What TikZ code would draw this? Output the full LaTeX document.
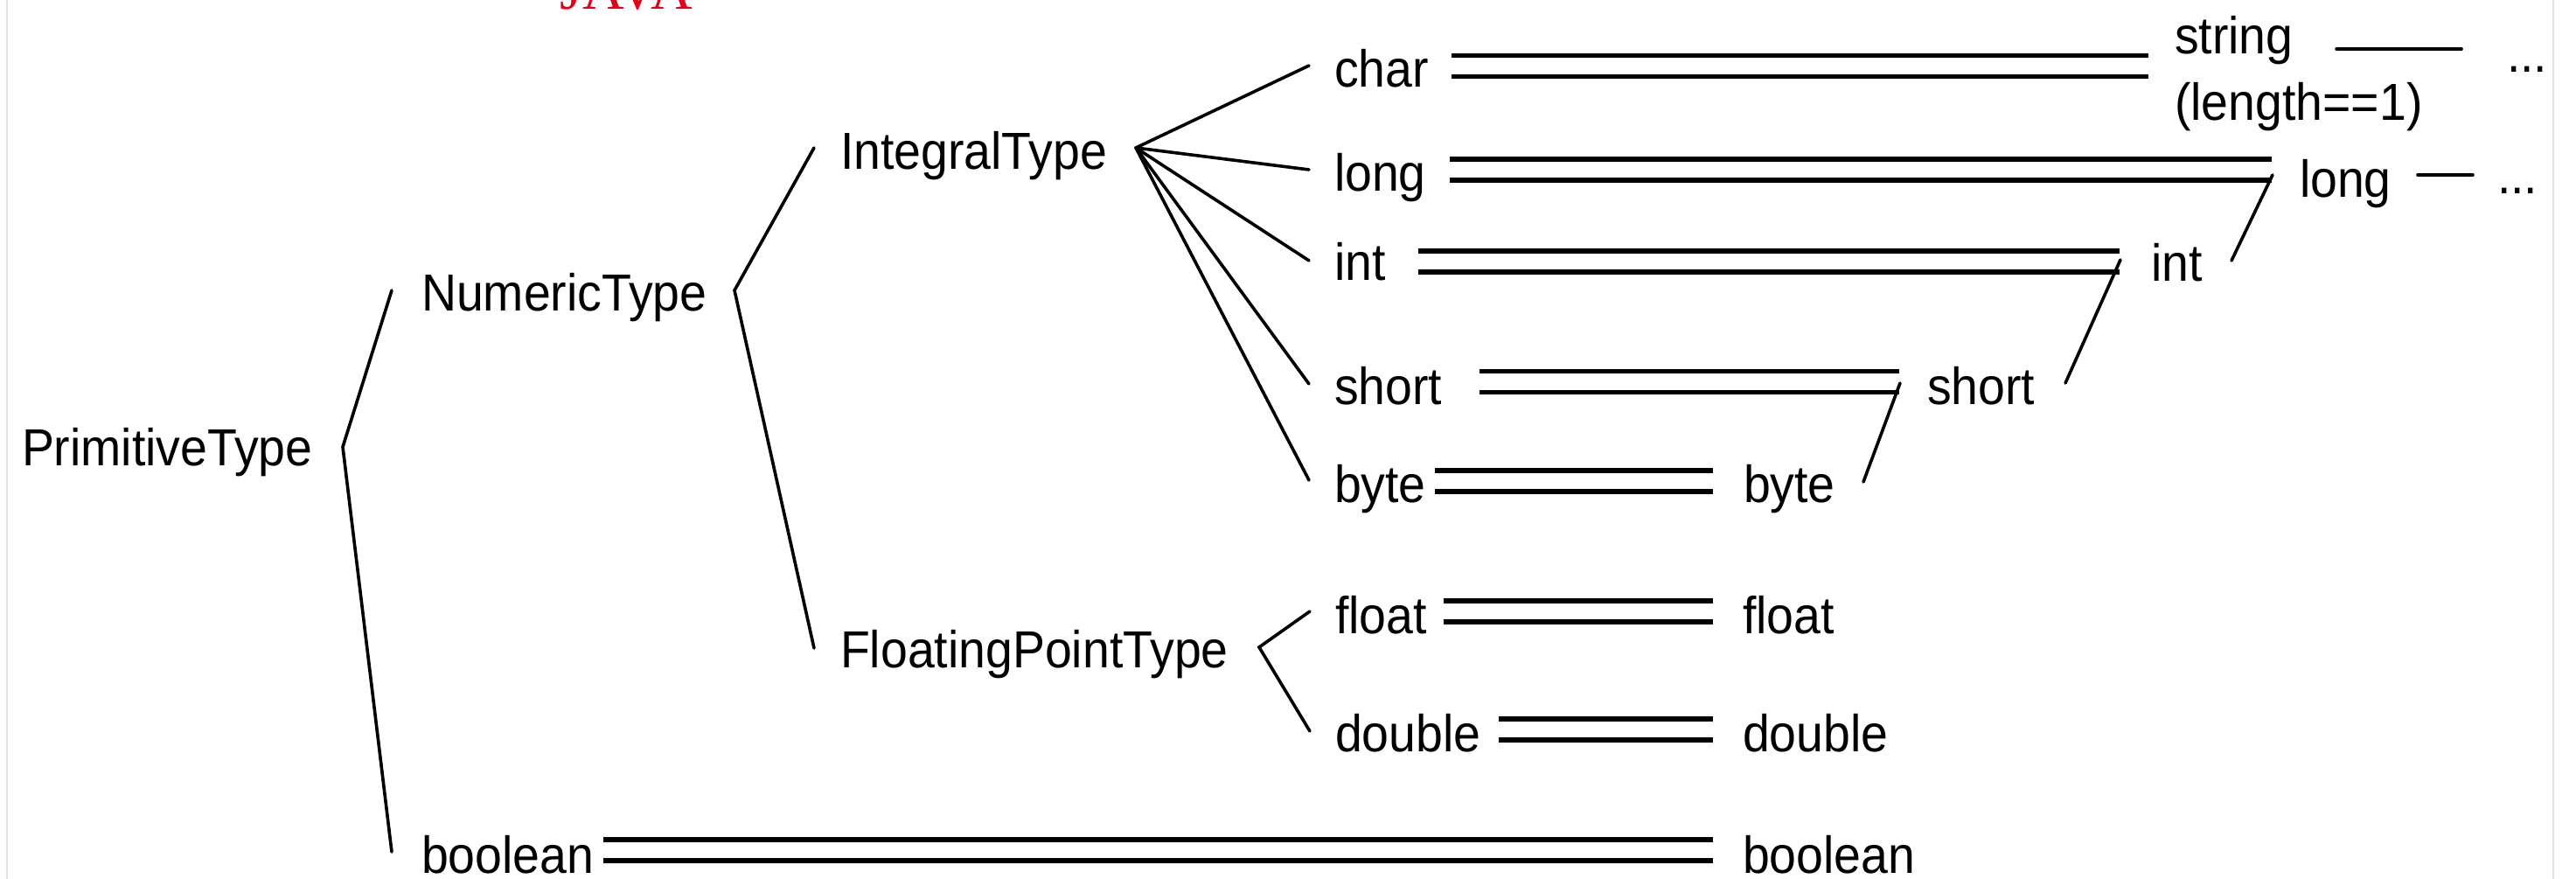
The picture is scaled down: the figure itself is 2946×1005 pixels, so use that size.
\documentclass[tikz,border=0pt]{standalone}
\usepackage{fontspec}
\setmainfont{Liberation Sans}[FakeStretch=0.93]
\newfontfamily\javafont{Liberation Serif}
\definecolor{javared}{RGB}{226,0,26}
\definecolor{frame}{RGB}{224,224,224}
\begin{document}
\begin{tikzpicture}[x=0.25pt,y=-0.25pt,
  lbl/.style={font=\fontsize{14.9pt}{17pt}\selectfont, anchor=base west, inner sep=0pt, outer sep=0pt},
  conn/.style={line width=0.9pt, line cap=round},
  dblline/.style={double, line width=1.45pt, double distance=4.55pt}]
\useasboundingbox (0,0) rectangle (2946,1005);
\fill[white] (0,0) rectangle (2946,1005);
\draw[frame, line width=0.5pt] (8,0) -- (8,1005);
\draw[frame, line width=0.5pt] (2920,0) -- (2920,1005);

% title (cut off at the top edge, as in the reference)
\node[anchor=base west, inner sep=0pt, text=javared, font=\javafont\fontsize{16.5pt}{18pt}\selectfont] (java) at (640,11) {JAVA};

% left tree labels
\node[lbl] (tPrim) at (25,532) {PrimitiveType};
\node[lbl] (tNum) at (482,355) {NumericType};
\node[lbl] (tBoolA) at (482,998) {boolean};
\node[lbl] (tIntegral) at (961,194) {IntegralType};
\node[lbl] (tFloating) at (961,763) {FloatingPointType};

% middle column
\node[lbl] (tChar) at (1526,100) {char};
\node[lbl] (tLong) at (1526,219) {long};
\node[lbl] (tInt) at (1526,321) {int};
\node[lbl] (tShort) at (1526,462) {short};
\node[lbl] (tByte) at (1526,574) {byte};
\node[lbl] (tFloat) at (1527,724) {float};
\node[lbl] (tDouble) at (1527,859) {double};

% right column
\node[lbl] (rString) at (2487,62) {string};
\node[lbl] (rLen) at (2487,138) {(length==1)};
\node[lbl] (rLong) at (2630,225) {long};
\node[lbl] (rInt) at (2460,322) {int};
\node[lbl] (rShort) at (2204,462) {short};
\node[lbl] (rByte) at (1994,574) {byte};
\node[lbl] (rFloat) at (1993,724) {float};
\node[lbl] (rDouble) at (1993,859) {double};
\node[lbl] (rBool) at (1993,998) {boolean};
\node[lbl] (dotsA) at (2867,83) {...};
\node[lbl] (dotsB) at (2856,222) {...};

% bracket coordinates
\coordinate (pV) at (392,511);
\coordinate (pA) at (448,332);
\coordinate (pB) at (448,974);
\coordinate (nV) at (840,332);
\coordinate (nA) at (931,169);
\coordinate (nB) at (931,741);
\coordinate (iV) at (1299,169);
\coordinate (iChar) at (1497,75);
\coordinate (iLong) at (1497,194);
\coordinate (iInt) at (1497,298);
\coordinate (iShort) at (1497,439);
\coordinate (iByte) at (1497,549);
\coordinate (fV) at (1440,740);
\coordinate (fA) at (1498,699);
\coordinate (fB) at (1498,836);

\draw[conn] (pA) -- (pV) -- (pB);
\draw[conn] (nA) -- (nV) -- (nB);
\foreach \t in {iChar,iLong,iInt,iShort,iByte} \draw[conn] (iV) -- (\t);
\draw[conn] (fA) -- (fV) -- (fB);

% double lines
\coordinate (cL) at (1660,75.5);   \coordinate (cR) at (2457,75.5);
\coordinate (lL) at (1658,194);    \coordinate (lR) at (2598,194);
\coordinate (iL) at (1622,299);    \coordinate (iR) at (2424,299);
\coordinate (sL) at (1692,436.5);  \coordinate (sR) at (2172,436.5);
\coordinate (bL) at (1641,550);    \coordinate (bR) at (1959,550);
\coordinate (flL) at (1651,699);   \coordinate (flR) at (1959,699);
\coordinate (dL) at (1714,834);    \coordinate (dR) at (1959,834);
\coordinate (boL) at (690,972);    \coordinate (boR) at (1959,972);
\draw[dblline] (cL) -- (cR);
\draw[dblline] (lL) -- (lR);
\draw[dblline] (iL) -- (iR);
\draw[dblline] (sL) -- (sR);
\draw[dblline] (bL) -- (bR);
\draw[dblline] (flL) -- (flR);
\draw[dblline] (dL) -- (dR);
\draw[dblline] (boL) -- (boR);

% widening links
\coordinate (bsA) at (2131,551);  \coordinate (bsB) at (2173,438);
\coordinate (siA) at (2362,438);  \coordinate (siB) at (2425,297);
\coordinate (ilA) at (2552,298);  \coordinate (ilB) at (2599,200);
\draw[conn] (bsA) -- (bsB);
\draw[conn] (siA) -- (siB);
\draw[conn] (ilA) -- (ilB);

% trailing lines
\coordinate (stA) at (2672,56);  \coordinate (stB) at (2815,56);
\coordinate (lgA) at (2765,200); \coordinate (lgB) at (2828,200);
\draw[conn] (stA) -- (stB);
\draw[conn] (lgA) -- (lgB);
\end{tikzpicture}
\end{document}
